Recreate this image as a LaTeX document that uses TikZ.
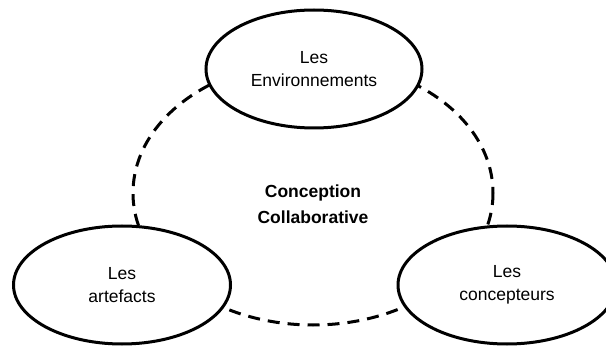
\documentclass[tikz,border=0pt]{standalone}
\usepackage{fontspec}
\setmainfont{Liberation Sans}
\usetikzlibrary{shapes.geometric}
\tikzset{
  bulle/.style={ellipse, draw, line width=3pt, fill=white, align=center,
    inner sep=0pt, font=\fontsize{17.5}{23}\selectfont},
  cercle/.style={line width=3pt, dash pattern=on 12pt off 8pt}
}
\begin{document}
\begin{tikzpicture}[x=1pt,y=-1pt]
\useasboundingbox (0,0) rectangle (606,350);
\draw[cercle] (313,193) ellipse (180 and 132);
\node[font=\bfseries\fontsize{17.5}{26}\selectfont, align=center] (centre) at (313,204) {Conception\\Collaborative};
\node[bulle, minimum width=216pt, minimum height=118pt] (env) at (314,69) {Les\\Environnements};
\node[bulle, minimum width=217pt, minimum height=118pt] (art) at (122,285) {Les\\artefacts};
\node[bulle, minimum width=218pt, minimum height=118pt] (conc) at (507,285) {Les\\concepteurs};
\end{tikzpicture}
\end{document}
